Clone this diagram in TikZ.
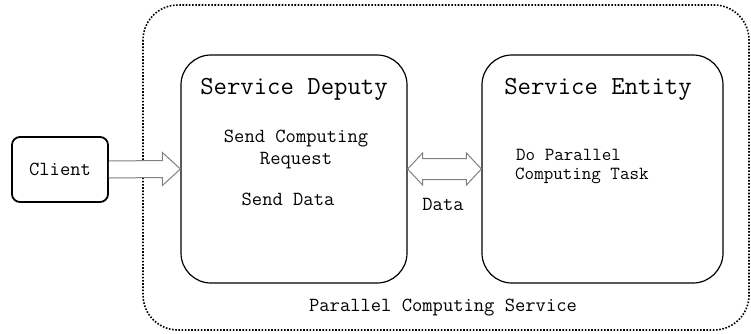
\documentclass[tikz,border=0pt]{standalone}
\usepackage{fontspec}
\setmonofont{Latin Modern Mono}
\usepackage{tikz}
\usetikzlibrary{calc}

\tikzset{
  boxline/.style={draw, line width=1.2pt, rounded corners=30pt},
  arrowline/.style={draw=gray, line width=1pt, fill=white},
  titletext/.style={anchor=base, inner sep=0pt, font=\ttfamily\fontsize{26}{28}\selectfont},
  bodytext/.style={anchor=base, inner sep=0pt, font=\ttfamily\fontsize{20}{22}\selectfont},
  tasktext/.style={anchor=base west, inner sep=0pt, font=\ttfamily\fontsize{18.5}{20}\selectfont},
}

\begin{document}
\begin{tikzpicture}[x=1pt,y=1pt,yscale=-1,xscale=1]
\useasboundingbox (0,0) rectangle (751,333);

% Outer dotted frame
\draw[line width=1.6pt, dash pattern=on 1.6pt off 1.6pt, rounded corners=35pt] (143,5) rectangle (749,330);

% Boxes
\node (client) [draw, line width=1.8pt, rounded corners=8pt, minimum width=96pt, minimum height=65pt] at (60,169.5) {};
\node (deputy) [boxline, minimum width=226pt, minimum height=228pt] at (294,169) {};
\node (entity) [boxline, minimum width=241pt, minimum height=228pt] at (602.5,169) {};

% Client -> Service Deputy
\draw[arrowline] ($(client.east)+(0,-8.5)$) -- ($(deputy.west)+(-18,-8.5)$) -- ($(deputy.west)+(-18,-16.5)$)
  -- (deputy.west) -- ($(deputy.west)+(-18,16.5)$) -- ($(deputy.west)+(-18,8.5)$) -- ($(client.east)+(0,8.5)$);

% Service Deputy <-> Service Entity
\draw[arrowline] ($(deputy.east)+(15,-10.5)$) -- ($(entity.west)+(-15,-10.5)$) -- ($(entity.west)+(-15,-16)$)
  -- (entity.west) -- ($(entity.west)+(-15,16)$) -- ($(entity.west)+(-15,10.5)$) -- ($(deputy.east)+(15,10.5)$)
  -- ($(deputy.east)+(15,16)$) -- (deputy.east) -- ($(deputy.east)+(15,-16)$) -- cycle;

% Text Node
\node (clienttext) [bodytext] at (60,175) {Client};
% Text Node
\node (deputytitle) [titletext] at (294,94) {Service Deputy};
% Text Node
\node (entitytitle) [titletext] at (598,94) {Service Entity};
% Text Node
\node (sendreq1) [bodytext] at (296,142) {Send Computing};
% Text Node
\node (sendreq2) [bodytext] at (296,164) {Request};
% Text Node
\node (senddata) [bodytext] at (288,205) {Send Data};
% Text Node
\node (dotask1) [tasktext] at (516,160) {Do Parallel};
% Text Node
\node (dotask2) [tasktext] at (515,179) {Computing Task};
% Text Node
\node (datatext) [bodytext] at (443,210) {Data};
% Text Node
\node (servicetext) [bodytext] at (443,311) {Parallel Computing Service};

\end{tikzpicture}
\end{document}
